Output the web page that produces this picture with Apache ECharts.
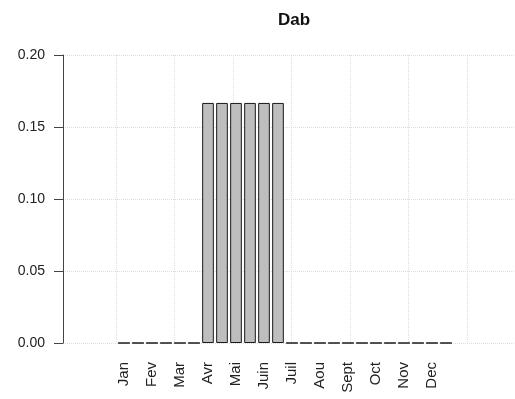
<!DOCTYPE html>
<html>
<head>
<meta charset="utf-8">
<script src="https://cdn.jsdelivr.net/npm/echarts@6/dist/echarts.min.js"></script>
<style>html,body{margin:0;padding:0;background:#fff}#c{width:515px;height:399px}</style>
</head>
<body>
<div id="c"></div>
<script>
// Month labels (one per pair of bars)
var months = ['Jan','Fev','Mar','Avr','Mai','Juin','Juil','Aou','Sept','Oct','Nov','Dec'];
// 24 bars (two per month), proportions
var values = [0,0,0,0,0,0, 0.1667,0.1667,0.1667,0.1667,0.1667,0.1667, 0,0,0,0,0,0,0,0,0,0,0,0];
var yTicks = [0, 0.05, 0.10, 0.15, 0.20];
var title = 'Dab';

var categories = [];
months.forEach(function(m){ categories.push(m); categories.push(''); });

var chart = echarts.init(document.getElementById('c'), null, {renderer:'canvas'});
var gridStyle = {show:true, lineStyle:{color:'#dcdcdc', type:'dotted', width:1}};
var fontFam = '"Liberation Sans", Arial, sans-serif';
chart.setOption({
  animation:false,
  backgroundColor:'#fff',
  title:{text:title, left:289, top:7, textAlign:'center',
    textStyle:{fontFamily:fontFam, fontWeight:'bold', fontSize:17, color:'#111'}},
  grid:[
    {left:63, right:0, top:55, bottom:56},
    {left:116, right:48, top:55, bottom:56},
    {left:117, right:62, top:55, bottom:56}
  ],
  xAxis:[
    {gridIndex:0, type:'value', min:0, max:1, show:false},
    {gridIndex:1, type:'value', min:0, max:30, interval:5,
      axisLine:{show:false}, axisTick:{show:false}, axisLabel:{show:false}, splitLine:gridStyle},
    {gridIndex:2, type:'category', data:categories,
      axisLine:{show:false}, axisTick:{show:false}, splitLine:{show:false},
      axisLabel:{interval:0, rotate:90, margin:19, fontFamily:fontFam, fontSize:15, color:'#222'}}
  ],
  yAxis:[
    {gridIndex:0, type:'value', min:yTicks[0], max:yTicks[yTicks.length-1], interval:0.05,
      axisLine:{show:true, lineStyle:{color:'#444', width:1}},
      axisTick:{show:true, length:9, lineStyle:{color:'#444'}},
      axisLabel:{margin:18, fontFamily:fontFam, fontSize:14, color:'#222',
        formatter:function(v){return v.toFixed(2);}},
      splitLine:gridStyle},
    {gridIndex:1, type:'value', min:0, max:0.2, show:false, splitLine:{show:false}},
    {gridIndex:2, type:'value', min:0, max:0.2, show:false, splitLine:{show:false}}
  ],
  series:[{
    type:'bar', xAxisIndex:2, yAxisIndex:2, data:values,
    barCategoryGap:'16.7%',
    itemStyle:{color:'#bebebe', borderColor:'#1a1a1a', borderWidth:1}
  }]
});
</script>
</body>
</html>
